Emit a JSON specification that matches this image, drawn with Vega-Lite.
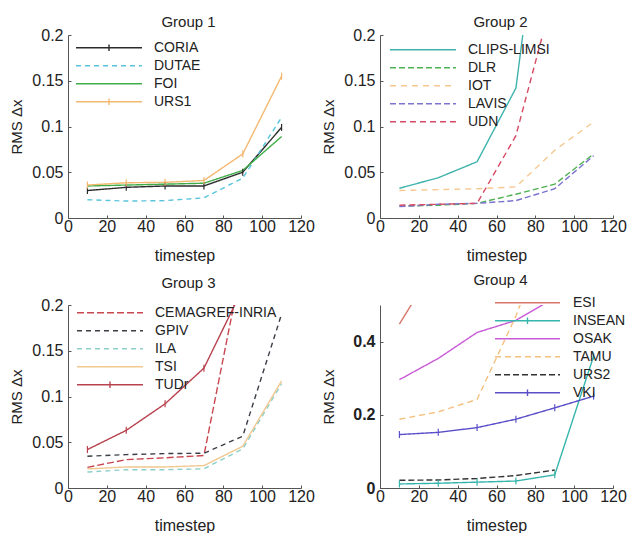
{
  "$schema": "https://vega.github.io/schema/vega-lite/v6.json",
  "padding": {"left": 9, "top": 15, "right": 0, "bottom": 0},
  "config": {
    "font": "Liberation Sans",
    "view": {"stroke": null},
    "line": {"strokeWidth": 1.4},
    "axis": {
      "grid": false,
      "domainColor": "#555",
      "tickColor": "#555",
      "tickSize": -3,
      "labelFont": "Liberation Sans",
      "labelFontSize": 16,
      "labelColor": "#222",
      "labelFlush": false,
      "titleFont": "Liberation Sans",
      "titleFontSize": 16,
      "titleFontWeight": 400,
      "titleColor": "#222"
    },
    "axisX": {"labelPadding": 3, "titlePadding": 13},
    "axisY": {"labelPadding": 8, "titleX": -44, "titleFontSize": 15},
    "legend": {
      "orient": "none",
      "title": null,
      "symbolSize": 4350,
      "symbolStrokeWidth": 1.4,
      "clipHeight": 17.6,
      "rowPadding": 0,
      "labelOffset": 11,
      "labelFont": "Liberation Sans",
      "labelFontSize": 14,
      "labelColor": "#222",
      "labelLimit": 300,
      "padding": 0
    },
    "title": {
      "font": "Liberation Sans",
      "fontSize": 15,
      "fontWeight": "normal",
      "color": "#222",
      "frame": "group",
      "baseline": "alphabetic",
      "offset": -3,
      "dx": 4
    }
  },
  "data": {
    "values": [
      {"g": 1, "s": "CORIA", "t": 10, "v": 0.030},
      {"g": 1, "s": "CORIA", "t": 30, "v": 0.0335},
      {"g": 1, "s": "CORIA", "t": 50, "v": 0.035},
      {"g": 1, "s": "CORIA", "t": 70, "v": 0.035},
      {"g": 1, "s": "CORIA", "t": 90, "v": 0.050},
      {"g": 1, "s": "CORIA", "t": 110, "v": 0.099},
      {"g": 1, "s": "DUTAE", "t": 10, "v": 0.020},
      {"g": 1, "s": "DUTAE", "t": 30, "v": 0.0185},
      {"g": 1, "s": "DUTAE", "t": 50, "v": 0.019},
      {"g": 1, "s": "DUTAE", "t": 70, "v": 0.022},
      {"g": 1, "s": "DUTAE", "t": 90, "v": 0.0435},
      {"g": 1, "s": "DUTAE", "t": 110, "v": 0.110},
      {"g": 1, "s": "FOI", "t": 10, "v": 0.035},
      {"g": 1, "s": "FOI", "t": 30, "v": 0.036},
      {"g": 1, "s": "FOI", "t": 50, "v": 0.037},
      {"g": 1, "s": "FOI", "t": 70, "v": 0.038},
      {"g": 1, "s": "FOI", "t": 90, "v": 0.052},
      {"g": 1, "s": "FOI", "t": 110, "v": 0.089},
      {"g": 1, "s": "URS1", "t": 10, "v": 0.036},
      {"g": 1, "s": "URS1", "t": 30, "v": 0.0385},
      {"g": 1, "s": "URS1", "t": 50, "v": 0.039},
      {"g": 1, "s": "URS1", "t": 70, "v": 0.041},
      {"g": 1, "s": "URS1", "t": 90, "v": 0.070},
      {"g": 1, "s": "URS1", "t": 110, "v": 0.155},

      {"g": 2, "s": "CLIPS-LIMSI", "t": 10, "v": 0.0325},
      {"g": 2, "s": "CLIPS-LIMSI", "t": 30, "v": 0.044},
      {"g": 2, "s": "CLIPS-LIMSI", "t": 50, "v": 0.0615},
      {"g": 2, "s": "CLIPS-LIMSI", "t": 70, "v": 0.142},
      {"g": 2, "s": "CLIPS-LIMSI", "t": 90, "v": 0.47},
      {"g": 2, "s": "DLR", "t": 10, "v": 0.013},
      {"g": 2, "s": "DLR", "t": 30, "v": 0.014},
      {"g": 2, "s": "DLR", "t": 50, "v": 0.016},
      {"g": 2, "s": "DLR", "t": 70, "v": 0.026},
      {"g": 2, "s": "DLR", "t": 90, "v": 0.037},
      {"g": 2, "s": "DLR", "t": 110, "v": 0.070},
      {"g": 2, "s": "IOT", "t": 10, "v": 0.030},
      {"g": 2, "s": "IOT", "t": 30, "v": 0.031},
      {"g": 2, "s": "IOT", "t": 50, "v": 0.032},
      {"g": 2, "s": "IOT", "t": 70, "v": 0.034},
      {"g": 2, "s": "IOT", "t": 90, "v": 0.074},
      {"g": 2, "s": "IOT", "t": 110, "v": 0.105},
      {"g": 2, "s": "LAVIS", "t": 10, "v": 0.0125},
      {"g": 2, "s": "LAVIS", "t": 30, "v": 0.015},
      {"g": 2, "s": "LAVIS", "t": 50, "v": 0.016},
      {"g": 2, "s": "LAVIS", "t": 70, "v": 0.019},
      {"g": 2, "s": "LAVIS", "t": 90, "v": 0.032},
      {"g": 2, "s": "LAVIS", "t": 110, "v": 0.068},
      {"g": 2, "s": "UDN", "t": 10, "v": 0.014},
      {"g": 2, "s": "UDN", "t": 30, "v": 0.015},
      {"g": 2, "s": "UDN", "t": 50, "v": 0.016},
      {"g": 2, "s": "UDN", "t": 70, "v": 0.090},
      {"g": 2, "s": "UDN", "t": 90, "v": 0.25},

      {"g": 3, "s": "CEMAGREF-INRIA", "t": 10, "v": 0.0226},
      {"g": 3, "s": "CEMAGREF-INRIA", "t": 30, "v": 0.031},
      {"g": 3, "s": "CEMAGREF-INRIA", "t": 50, "v": 0.033},
      {"g": 3, "s": "CEMAGREF-INRIA", "t": 70, "v": 0.0355},
      {"g": 3, "s": "CEMAGREF-INRIA", "t": 90, "v": 0.249},
      {"g": 3, "s": "GPIV", "t": 10, "v": 0.0347},
      {"g": 3, "s": "GPIV", "t": 30, "v": 0.0365},
      {"g": 3, "s": "GPIV", "t": 50, "v": 0.0376},
      {"g": 3, "s": "GPIV", "t": 70, "v": 0.038},
      {"g": 3, "s": "GPIV", "t": 90, "v": 0.0566},
      {"g": 3, "s": "GPIV", "t": 110, "v": 0.19},
      {"g": 3, "s": "ILA", "t": 10, "v": 0.0175},
      {"g": 3, "s": "ILA", "t": 30, "v": 0.020},
      {"g": 3, "s": "ILA", "t": 50, "v": 0.020},
      {"g": 3, "s": "ILA", "t": 70, "v": 0.021},
      {"g": 3, "s": "ILA", "t": 90, "v": 0.0427},
      {"g": 3, "s": "ILA", "t": 110, "v": 0.114},
      {"g": 3, "s": "TSI", "t": 10, "v": 0.0208},
      {"g": 3, "s": "TSI", "t": 30, "v": 0.023},
      {"g": 3, "s": "TSI", "t": 50, "v": 0.023},
      {"g": 3, "s": "TSI", "t": 70, "v": 0.0245},
      {"g": 3, "s": "TSI", "t": 90, "v": 0.0456},
      {"g": 3, "s": "TSI", "t": 110, "v": 0.117},
      {"g": 3, "s": "TUDr", "t": 10, "v": 0.042},
      {"g": 3, "s": "TUDr", "t": 30, "v": 0.063},
      {"g": 3, "s": "TUDr", "t": 50, "v": 0.092},
      {"g": 3, "s": "TUDr", "t": 70, "v": 0.131},
      {"g": 3, "s": "TUDr", "t": 90, "v": 0.218},

      {"g": 4, "s": "ESI", "t": 10, "v": 0.448},
      {"g": 4, "s": "ESI", "t": 30, "v": 0.62},
      {"g": 4, "s": "INSEAN", "t": 10, "v": 0.011},
      {"g": 4, "s": "INSEAN", "t": 30, "v": 0.013},
      {"g": 4, "s": "INSEAN", "t": 50, "v": 0.016},
      {"g": 4, "s": "INSEAN", "t": 70, "v": 0.019},
      {"g": 4, "s": "INSEAN", "t": 90, "v": 0.036},
      {"g": 4, "s": "INSEAN", "t": 110, "v": 0.36},
      {"g": 4, "s": "OSAK", "t": 10, "v": 0.296},
      {"g": 4, "s": "OSAK", "t": 30, "v": 0.354},
      {"g": 4, "s": "OSAK", "t": 50, "v": 0.425},
      {"g": 4, "s": "OSAK", "t": 70, "v": 0.458},
      {"g": 4, "s": "OSAK", "t": 90, "v": 0.52},
      {"g": 4, "s": "TAMU", "t": 10, "v": 0.188},
      {"g": 4, "s": "TAMU", "t": 30, "v": 0.208},
      {"g": 4, "s": "TAMU", "t": 50, "v": 0.242},
      {"g": 4, "s": "TAMU", "t": 70, "v": 0.47},
      {"g": 4, "s": "TAMU", "t": 90, "v": 0.75},
      {"g": 4, "s": "URS2", "t": 10, "v": 0.021},
      {"g": 4, "s": "URS2", "t": 30, "v": 0.022},
      {"g": 4, "s": "URS2", "t": 50, "v": 0.026},
      {"g": 4, "s": "URS2", "t": 70, "v": 0.034},
      {"g": 4, "s": "URS2", "t": 90, "v": 0.049},
      {"g": 4, "s": "VKI", "t": 10, "v": 0.146},
      {"g": 4, "s": "VKI", "t": 30, "v": 0.152},
      {"g": 4, "s": "VKI", "t": 50, "v": 0.165},
      {"g": 4, "s": "VKI", "t": 70, "v": 0.188},
      {"g": 4, "s": "VKI", "t": 90, "v": 0.219},
      {"g": 4, "s": "VKI", "t": 110, "v": 0.251}
    ]
  },
  "columns": 2,
  "spacing": {"row": 9, "column": 6},
  "resolve": {"scale": {"color": "independent", "strokeDash": "independent", "shape": "independent"}},
  "concat": [
    {
      "width": 233,
      "height": 183,
      "title": {"text": "Group 1"},
      "transform": [{"filter": "datum.g === 1"}],
      "encoding": {
        "x": {"field": "t", "type": "quantitative", "scale": {"domain": [0, 120], "nice": false}, "axis": {"values": [0, 20, 40, 60, 80, 100, 120], "title": "timestep"}},
        "y": {"field": "v", "type": "quantitative", "scale": {"domain": [0, 0.2], "nice": false}, "axis": {"values": [0, 0.05, 0.1, 0.15, 0.2], "format": "~g", "title": "RMS Δx"}},
        "color": {
          "field": "s", "type": "nominal",
          "scale": {"domain": ["CORIA", "DUTAE", "FOI", "URS1"], "range": ["#2b2b2b", "#58c4dc", "#3fae49", "#f3b870"]},
          "legend": {"legendX": 7, "legendY": 4}
        }
      },
      "layer": [
        {
          "mark": {"type": "line", "clip": true},
          "encoding": {
            "strokeDash": {
              "field": "s", "type": "nominal",
              "scale": {"domain": ["CORIA", "DUTAE", "FOI", "URS1"], "range": [[1, 0], [5, 4], [1, 0], [1, 0]]},
              "legend": {"legendX": 7, "legendY": 4}
            }
          }
        },
        {
          "mark": {"type": "point", "size": 0, "filled": false, "strokeWidth": 1.4, "clip": true},
          "encoding": {
            "shape": {
              "field": "s", "type": "nominal",
              "scale": {"domain": ["CORIA", "DUTAE", "FOI", "URS1"], "range": ["M-1,0H1M0,-0.1V0.1", "M-1,0H1", "M-1,0H1", "M-1,0H1M0,-0.1V0.1"]},
              "legend": {"legendX": 7, "legendY": 4}
            }
          }
        },
        {
          "transform": [{"filter": {"field": "s", "oneOf": ["CORIA", "URS1"]}}],
          "mark": {"type": "tick", "orient": "vertical", "size": 7, "thickness": 1.2, "opacity": 1, "clip": true}
        }
      ]
    },
    {
      "width": 233,
      "height": 183,
      "title": {"text": "Group 2"},
      "transform": [{"filter": "datum.g === 2"}],
      "encoding": {
        "x": {"field": "t", "type": "quantitative", "scale": {"domain": [0, 120], "nice": false}, "axis": {"values": [0, 20, 40, 60, 80, 100, 120], "title": "timestep"}},
        "y": {"field": "v", "type": "quantitative", "scale": {"domain": [0, 0.2], "nice": false}, "axis": {"values": [0, 0.05, 0.1, 0.15, 0.2], "format": "~g", "title": "RMS Δx"}}
      },
      "layer": [
        {
          "mark": {"type": "line", "clip": true},
          "encoding": {
            "color": {
              "field": "s", "type": "nominal",
              "scale": {"domain": ["CLIPS-LIMSI", "DLR", "IOT", "LAVIS", "UDN"], "range": ["#3fb3ad", "#4cb050", "#f6c88e", "#7b73d0", "#d64a63"]},
              "legend": {"legendX": 9, "legendY": 6, "symbolType": "stroke"}
            },
            "strokeDash": {
              "field": "s", "type": "nominal",
              "scale": {"domain": ["CLIPS-LIMSI", "DLR", "IOT", "LAVIS", "UDN"], "range": [[1, 0], [6, 3], [6, 5], [6, 3], [6, 4]]},
              "legend": {"legendX": 9, "legendY": 6, "symbolType": "stroke"}
            }
          }
        }
      ]
    },
    {
      "width": 233,
      "height": 183,
      "title": {"text": "Group 3", "offset": 6.5},
      "transform": [{"filter": "datum.g === 3"}],
      "encoding": {
        "x": {"field": "t", "type": "quantitative", "scale": {"domain": [0, 120], "nice": false}, "axis": {"values": [0, 20, 40, 60, 80, 100, 120], "title": "timestep"}},
        "y": {"field": "v", "type": "quantitative", "scale": {"domain": [0, 0.2], "nice": false}, "axis": {"values": [0, 0.05, 0.1, 0.15, 0.2], "format": "~g", "title": "RMS Δx"}},
        "color": {
          "field": "s", "type": "nominal",
          "scale": {"domain": ["CEMAGREF-INRIA", "GPIV", "ILA", "TSI", "TUDr"], "range": ["#c9474f", "#3a3f47", "#8ccfc8", "#f1c890", "#b8424e"]},
          "legend": {"legendX": 8, "legendY": -1}
        }
      },
      "layer": [
        {
          "mark": {"type": "line", "clip": true},
          "encoding": {
            "strokeDash": {
              "field": "s", "type": "nominal",
              "scale": {"domain": ["CEMAGREF-INRIA", "GPIV", "ILA", "TSI", "TUDr"], "range": [[7, 3], [5, 4], [5, 4], [1, 0], [1, 0]]},
              "legend": {"legendX": 8, "legendY": -1}
            }
          }
        },
        {
          "mark": {"type": "point", "size": 0, "filled": false, "strokeWidth": 1.4, "clip": true},
          "encoding": {
            "shape": {
              "field": "s", "type": "nominal",
              "scale": {"domain": ["CEMAGREF-INRIA", "GPIV", "ILA", "TSI", "TUDr"], "range": ["M-1,0H1", "M-1,0H1", "M-1,0H1", "M-1,0H1", "M-1,0H1M0,-0.1V0.1"]},
              "legend": {"legendX": 8, "legendY": -1}
            }
          }
        },
        {
          "transform": [{"filter": {"field": "s", "oneOf": ["TUDr"]}}],
          "mark": {"type": "tick", "orient": "vertical", "size": 7, "thickness": 1.2, "opacity": 1, "clip": true}
        }
      ]
    },
    {
      "width": 233,
      "height": 183,
      "title": {"text": "Group 4", "offset": 6.5},
      "transform": [{"filter": "datum.g === 4"}],
      "encoding": {
        "x": {"field": "t", "type": "quantitative", "scale": {"domain": [0, 120], "nice": false}, "axis": {"values": [0, 20, 40, 60, 80, 100, 120], "title": "timestep"}},
        "y": {"field": "v", "type": "quantitative", "scale": {"domain": [0, 0.5], "nice": false}, "axis": {"values": [0, 0.2, 0.4], "format": "~g", "title": "RMS Δx", "labelFontWeight": "bold"}},
        "color": {
          "field": "s", "type": "nominal",
          "scale": {"domain": ["ESI", "INSEAN", "OSAK", "TAMU", "URS2", "VKI"], "range": ["#d8776a", "#36b5ad", "#c85ad6", "#f5c07e", "#333333", "#5a4fc8"]},
          "legend": {"legendX": 114, "legendY": -11, "symbolSize": 4225, "labelOffset": 12}
        }
      },
      "layer": [
        {
          "mark": {"type": "line", "clip": true},
          "encoding": {
            "strokeDash": {
              "field": "s", "type": "nominal",
              "scale": {"domain": ["ESI", "INSEAN", "OSAK", "TAMU", "URS2", "VKI"], "range": [[1, 0], [1, 0], [1, 0], [6, 4], [6, 3], [1, 0]]},
              "legend": {"legendX": 114, "legendY": -11, "symbolSize": 4225, "labelOffset": 12}
            }
          }
        },
        {
          "mark": {"type": "point", "size": 0, "filled": false, "strokeWidth": 1.4, "clip": true},
          "encoding": {
            "shape": {
              "field": "s", "type": "nominal",
              "scale": {"domain": ["ESI", "INSEAN", "OSAK", "TAMU", "URS2", "VKI"], "range": ["M-1,0H1", "M-1,0H1M0,-0.1V0.1", "M-1,0H1", "M-1,0H1", "M-1,0H1", "M-1,0H1M0,-0.1V0.1"]},
              "legend": {"legendX": 114, "legendY": -11, "symbolSize": 4225, "labelOffset": 12}
            }
          }
        },
        {
          "transform": [{"filter": {"field": "s", "oneOf": ["INSEAN", "VKI"]}}],
          "mark": {"type": "tick", "orient": "vertical", "size": 7, "thickness": 1.2, "opacity": 1, "clip": true}
        }
      ]
    }
  ]
}
